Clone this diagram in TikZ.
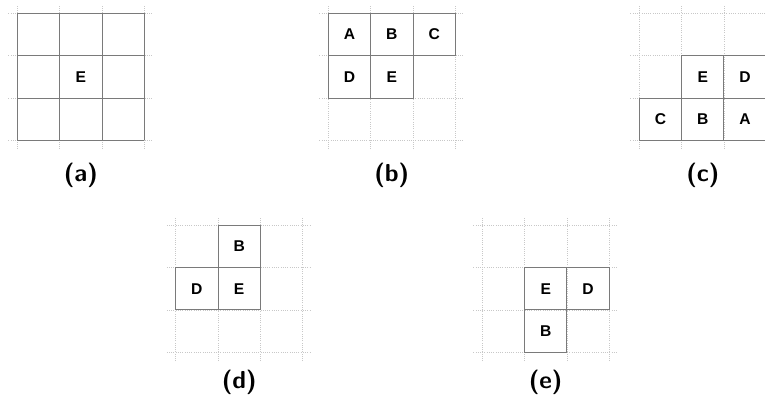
\documentclass[tikz,border=0pt]{standalone}
\usepackage{fontspec}
\newfontfamily\cellfont{Liberation Sans}
\usetikzlibrary{positioning}
\definecolor{linegray}{HTML}{7A7A7A}
\definecolor{dotgray}{HTML}{C8C8C8}
\tikzset{
    dotgrid/.style = {
        draw=dotgray,
        densely dotted,
        line width=0.5pt,
        step=1cm
    },
    cellgrid/.style = {
        draw=linegray,
        line width=0.6pt,
        step=1cm
    },
    cell/.style = {
        rectangle,
        draw=linegray,
        line width=0.6pt,
        minimum size=1cm,
        inner sep=0pt,
        outer sep=0pt,
        font=\cellfont\bfseries\fontsize{10.5}{12}\selectfont
    },
    caption/.style = {
        font=\sffamily\bfseries\fontsize{16.5}{19}\selectfont
    }
}

\begin{document}
\begin{tikzpicture}

\useasboundingbox (0,0) rectangle (18.07,-9.52);

% (a) vizinhanca completa
\begin{scope}[shift={(0.41,-0.315)}]
\draw [dotgrid] (-0.21,0.21) grid (3.21,-3.21);
\draw [cellgrid] (0,0) grid (3,-3);
\node (aE) [cell, draw=none] at (1.5,-1.5) {E};
\node (acap) [caption] at (1.5,-3.83) {(a)};
\end{scope}

% (b)
\begin{scope}[shift={(7.756,-0.315)}]
\draw [dotgrid] (-0.21,0.21) grid (3.21,-3.21);
\node (bA) [cell] at (0.5,-0.5) {A};
\node (bB) [cell, right=0cm of bA] {B};
\node (bC) [cell, right=0cm of bB] {C};
\node (bD) [cell, below=0cm of bA] {D};
\node (bE) [cell, right=0cm of bD] {E};
\node (bcap) [caption] at (1.5,-3.83) {(b)};
\end{scope}

% (c)
\begin{scope}[shift={(15.10,-0.315)}]
\draw [dotgrid] (-0.21,0.21) grid (3.21,-3.21);
\node (cE) [cell] at (1.5,-1.5) {E};
\node (cD) [cell, right=0cm of cE] {D};
\node (cB) [cell, below=0cm of cE] {B};
\node (cC) [cell, left=0cm of cB] {C};
\node (cA) [cell, right=0cm of cB] {A};
\node (ccap) [caption] at (1.5,-3.83) {(c)};
\end{scope}

% (d)
\begin{scope}[shift={(4.15,-5.32)}]
\draw [dotgrid] (-0.21,0.21) grid (3.21,-3.21);
\node (dE) [cell] at (1.5,-1.5) {E};
\node (dB) [cell, above=0cm of dE] {B};
\node (dD) [cell, left=0cm of dE] {D};
\node (dcap) [caption] at (1.5,-3.72) {(d)};
\end{scope}

% (e)
\begin{scope}[shift={(11.39,-5.32)}]
\draw [dotgrid] (-0.21,0.21) grid (3.21,-3.21);
\node (eE) [cell] at (1.5,-1.5) {E};
\node (eD) [cell, right=0cm of eE] {D};
\node (eB) [cell, below=0cm of eE] {B};
\node (ecap) [caption] at (1.5,-3.72) {(e)};
\end{scope}

\end{tikzpicture}
\end{document}
